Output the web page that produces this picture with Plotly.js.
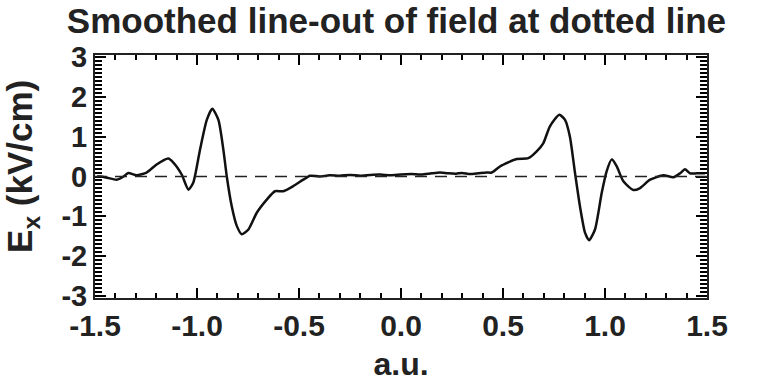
<!DOCTYPE html>
<html>
<head>
<meta charset="utf-8">
<script src="https://cdn.plot.ly/plotly-3.0.1.min.js"></script>
<style>html,body{margin:0;padding:0;background:#fff;}#chart{width:758px;height:383px;}</style>
</head>
<body>
<div id="chart"></div>
<script>
const posX = [-1.49, -1.475, -1.44, -1.394, -1.36, -1.337, -1.296, -1.247, -1.198, -1.141, -1.116, -1.075, -1.042, -1.018, -0.985, -0.952, -0.925, -0.895, -0.871, -0.854, -0.83, -0.805, -0.781, -0.748, -0.707, -0.658, -0.618, -0.577, -0.528, -0.479, -0.446, -0.40, -0.35, -0.30, -0.25, -0.20, -0.15, -0.103, -0.05, 0.0, 0.05, 0.10, 0.15, 0.191, 0.23, 0.27, 0.30, 0.338, 0.38, 0.42, 0.445, 0.485, 0.567, 0.624, 0.665, 0.698, 0.730, 0.776, 0.804, 0.828, 0.853, 0.877, 0.902, 0.922, 0.951, 0.984, 1.008, 1.033, 1.057, 1.09, 1.139, 1.172, 1.221, 1.286, 1.335, 1.368, 1.392, 1.417, 1.45, 1.49];
const fieldEx = [0.0, 0.0, -0.03, -0.08, 0.0, 0.09, 0.03, 0.1, 0.3, 0.45, 0.35, 0.05, -0.33, -0.15, 0.68, 1.42, 1.7, 1.42, 0.68, 0.0, -0.74, -1.24, -1.45, -1.33, -0.91, -0.58, -0.37, -0.37, -0.24, -0.08, 0.02, 0.0, 0.03, 0.02, 0.04, 0.02, 0.04, 0.05, 0.03, 0.05, 0.06, 0.05, 0.08, 0.1, 0.08, 0.07, 0.09, 0.06, 0.08, 0.1, 0.1, 0.25, 0.44, 0.46, 0.63, 0.84, 1.26, 1.55, 1.42, 1.0, 0.09, -0.74, -1.41, -1.6, -1.33, -0.41, 0.13, 0.43, 0.26, -0.12, -0.34, -0.29, -0.08, 0.03, -0.02, 0.08, 0.18, 0.08, 0.08, 0.08];
const xTickVals = [-1.5, -1.0, -0.5, 0.0, 0.5, 1.0, 1.5];
const xTickText = ["-1.5", "-1.0", "-0.5", "0.0", "0.5", "1.0", "1.5"];
const yTickVals = [-3, -2, -1, 0, 1, 2, 3];
const yTickText = ["-3", "-2", "-1", "0", "1", "2", "3"];

const F = "Liberation Sans, Arial, Helvetica, sans-serif";
const INK = '#222';
const TICK = '#000000';
const trace = {
  x: posX, y: fieldEx, type: 'scatter', mode: 'lines',
  line: {color: '#111', width: 2.5, shape: 'spline', smoothing: 0.6},
  hoverinfo: 'skip'
};
const layout = {
  width: 758, height: 383,
  margin: {l: 95, r: 51, t: 55, b: 85},
  paper_bgcolor: '#fff', plot_bgcolor: '#fff',
  showlegend: false,
  title: {text: 'Smoothed line-out of field at dotted line', x: 0.523, xanchor: 'center', y: 0.978, yanchor: 'top',
          font: {family: F, size: 35, color: INK, weight: 700}},
  xaxis: {
    range: [-1.5, 1.5], tickmode: 'array', tickvals: xTickVals, ticktext: xTickText,
    ticks: 'inside', ticklen: 10, tickwidth: 2, tickcolor: TICK,
    minor: {tickmode: 'linear', tick0: 0, dtick: 0.1, ticks: 'inside', ticklen: 5, tickwidth: 1.5, tickcolor: TICK},
    showline: true, linecolor: INK, linewidth: 2, mirror: 'allticks',
    showgrid: false, zeroline: false,
    tickfont: {family: F, size: 30, color: INK, weight: 700},
    title: {text: 'a.u.', font: {family: F, size: 32, color: INK, weight: 700}, standoff: 12}
  },
  yaxis: {
    range: [-3.05, 3.05], tickmode: 'array', tickvals: yTickVals, ticktext: yTickText,
    ticks: 'inside', ticklen: 11, tickwidth: 2, tickcolor: TICK,
    minor: {tickmode: 'linear', tick0: 0, dtick: 0.1, ticks: 'inside', ticklen: 7, tickwidth: 1.5, tickcolor: TICK},
    showline: true, linecolor: INK, linewidth: 2, mirror: 'allticks',
    showgrid: false, zeroline: false,
    tickfont: {family: F, size: 29, color: INK, weight: 700}
  },
  annotations: [{text: 'E<sub>x</sub> (kV/cm)', xref: 'paper', yref: 'paper', x: -0.119, y: 0.54,
                 xanchor: 'center', yanchor: 'middle', textangle: -90, showarrow: false,
                 font: {family: F, size: 35, color: INK, weight: 700}}],
  shapes: [{type: 'line', xref: 'paper', x0: 0, x1: 1, yref: 'y', y0: 0, y1: 0,
            line: {color: INK, width: 1.6, dash: '12px,8px'}}]
};
Plotly.newPlot('chart', [trace], layout, {displayModeBar: false});
</script>
</body>
</html>
